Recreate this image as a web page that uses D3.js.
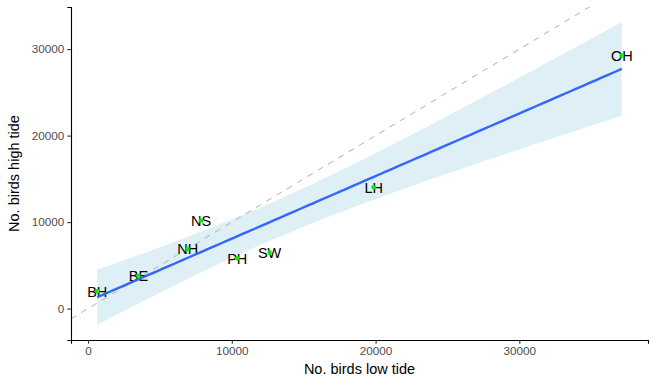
<!DOCTYPE html>
<html>
<head>
<meta charset="utf-8">
<script src="https://cdn.jsdelivr.net/npm/d3@7"></script>
<style>
  body { margin: 0; background: #fff; }
  svg { display: block; font-family: "Liberation Sans", Arial, sans-serif; }
</style>
</head>
<body>
<svg id="chart"></svg>
<script>
// site codes and bird counts
const sites = ["BH", "BE", "NH", "NS", "PH", "SW", "LH", "OH"];
const lowTide = [640, 3510, 6930, 7864, 10377, 12631, 19867, 37125];
const highTide = [2000, 3756, 6895, 10186, 5814, 6465, 14023, 29256];
const xTicks = [0, 10000, 20000, 30000];
const yTicks = [0, 10000, 20000, 30000];
const tCrit = 2.447; // t(0.975, df = 6)

const w = 655, h = 381;
const margin = {top: 7, right: 7, bottom: 41, left: 71};

const svg = d3.select("#chart").attr("width", w).attr("height", h);

// linear fit + 95% confidence band (like geom_smooth(method = "lm"))
const n = lowTide.length;
const mx = d3.mean(lowTide), my = d3.mean(highTide);
let sxx = 0, sxy = 0;
lowTide.forEach((x, i) => { sxx += (x - mx) ** 2; sxy += (x - mx) * (highTide[i] - my); });
const slope = sxy / sxx, icpt = my - slope * mx;
const sse = d3.sum(lowTide, (x, i) => (highTide[i] - icpt - slope * x) ** 2);
const s = Math.sqrt(sse / (n - 2));

const [xmin, xmax] = d3.extent(lowTide);
const fit = d3.range(0, 81).map(k => {
  const x = xmin + (xmax - xmin) * k / 80;
  const y = icpt + slope * x;
  const se = s * Math.sqrt(1 / n + (x - mx) ** 2 / sxx);
  return {x, y, lo: y - tCrit * se, hi: y + tCrit * se};
});

// ggplot-like 5% expansion
const expand = ([a, b]) => [a - (b - a) * 0.05, b + (b - a) * 0.05];
const yLo = d3.min([d3.min(highTide), d3.min(fit, d => d.lo)]);
const yHi = d3.max([d3.max(highTide), d3.max(fit, d => d.hi)]);

const x = d3.scaleLinear().domain(expand([xmin, xmax])).range([margin.left, w - margin.right]);
const y = d3.scaleLinear().domain(expand([yLo, yHi])).range([h - margin.bottom, margin.top]);

svg.append("defs").append("clipPath").attr("id", "clip")
  .append("rect")
  .attr("x", margin.left).attr("y", margin.top)
  .attr("width", w - margin.left - margin.right)
  .attr("height", h - margin.top - margin.bottom);

const g = svg.append("g").attr("clip-path", "url(#clip)");

// confidence ribbon
g.append("path")
  .datum(fit)
  .attr("fill", "#add8e6")
  .attr("fill-opacity", 0.4)
  .attr("d", d3.area().x(d => x(d.x)).y0(d => y(d.lo)).y1(d => y(d.hi)));

// 1:1 reference line
const xd = x.domain();
g.append("line")
  .attr("x1", x(xd[0])).attr("y1", y(xd[0]))
  .attr("x2", x(xd[1])).attr("y2", y(xd[1]))
  .attr("stroke", "#bebebe")
  .attr("stroke-width", 1.1)
  .attr("stroke-dasharray", "6,6");

// site labels
g.selectAll(".lab")
  .data(sites)
  .join("text")
  .attr("class", "lab")
  .attr("x", (d, i) => x(lowTide[i]))
  .attr("y", (d, i) => y(highTide[i]))
  .attr("dy", "0.36em")
  .attr("text-anchor", "middle")
  .attr("font-size", "14.5px")
  .attr("fill", "#000")
  .text(d => d);

// fitted line
g.append("path")
  .datum(fit)
  .attr("fill", "none")
  .attr("stroke", "#3366ff")
  .attr("stroke-width", 2.4)
  .attr("d", d3.line().x(d => x(d.x)).y(d => y(d.y)));

// points
g.selectAll(".pt")
  .data(sites)
  .join("circle")
  .attr("class", "pt")
  .attr("cx", (d, i) => x(lowTide[i]))
  .attr("cy", (d, i) => y(highTide[i]))
  .attr("r", 2.3)
  .attr("fill", "#00ee00");

// axes
const xAxis = svg.append("g")
  .attr("transform", `translate(0,${h - margin.bottom})`)
  .call(d3.axisBottom(x).tickValues(xTicks).tickFormat(d3.format("d")).tickSizeOuter(0).tickSize(3.7).tickPadding(3));
const yAxis = svg.append("g")
  .attr("transform", `translate(${margin.left},0)`)
  .call(d3.axisLeft(y).tickValues(yTicks).tickFormat(d3.format("d")).tickSizeOuter(0).tickSize(3.7).tickPadding(3));

[xAxis, yAxis].forEach(ax => {
  ax.select(".domain").attr("stroke", "#000").attr("stroke-width", 1.1);
  ax.selectAll(".tick line").attr("stroke", "#333").attr("stroke-width", 1.1);
  ax.selectAll(".tick text")
    .attr("fill", "#4d4d4d")
    .attr("font-size", "11.7px")
    .attr("font-family", "Liberation Sans, Arial, sans-serif");
});

// axis titles
svg.append("text")
  .attr("x", (margin.left + w - margin.right) / 2)
  .attr("y", h - 7)
  .attr("text-anchor", "middle")
  .attr("font-size", "14.5px")
  .text("No. birds low tide");

svg.append("text")
  .attr("transform", `translate(19,${(margin.top + h - margin.bottom) / 2}) rotate(-90)`)
  .attr("text-anchor", "middle")
  .attr("font-size", "14.5px")
  .text("No. birds high tide");
</script>
</body>
</html>
